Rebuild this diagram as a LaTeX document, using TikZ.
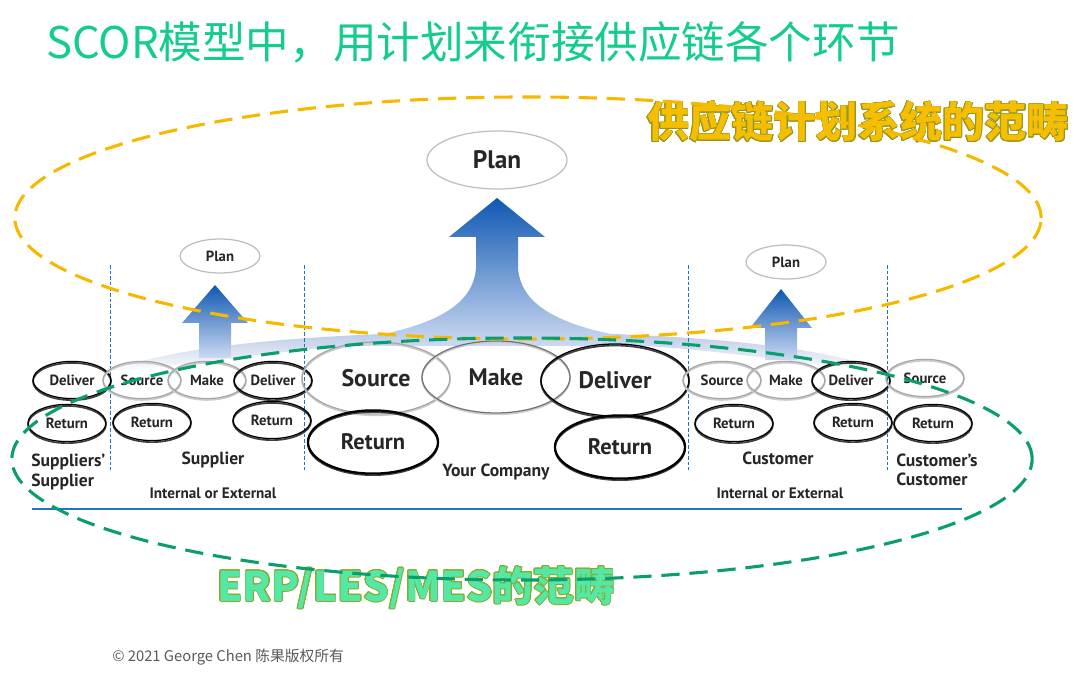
\documentclass[tikz,border=0pt]{standalone}
\usepackage{fontspec}
\usepackage{contour}
\usetikzlibrary{shapes.geometric}

\newfontfamily\cjk{Noto Sans CJK SC}
\newfontfamily\scorfont{PT Sans}

\definecolor{titlegreen}{RGB}{20,205,140}
\definecolor{planorange}{RGB}{245,190,0}
\definecolor{planoutline}{RGB}{150,150,30}
\definecolor{erpgreen}{RGB}{85,232,165}
\definecolor{erpoutline}{RGB}{135,170,40}
\definecolor{dashorange}{RGB}{247,185,0}
\definecolor{dashgreen}{RGB}{10,158,108}
\definecolor{linkblue}{RGB}{35,115,195}
\definecolor{arrowtop}{RGB}{15,88,178}
\definecolor{arrowbottom}{RGB}{205,218,242}
\definecolor{bandtop}{RGB}{185,200,230}

\contourlength{0.45pt}

\tikzstyle{oval}=[ellipse, inner sep=0pt, text=black!85,
                  font=\scorfont\bfseries\fontsize{10.5}{12}\selectfont,
                  minimum width=1.95cm, minimum height=0.93cm]
\tikzstyle{darkoval}=[draw=black, line width=0.9pt,
                      preaction={draw=black!75, line width=1.2pt, transform canvas={yshift=-1.1pt}}]
\tikzstyle{lightoval}=[draw=black!35, line width=0.9pt,
                       preaction={draw=black!20, line width=1.1pt, transform canvas={yshift=-1pt}}]
\tikzstyle{bigoval}=[oval, font=\scorfont\bfseries\fontsize{17}{20}\selectfont,
                     minimum width=3.7cm, minimum height=1.8cm]
\tikzstyle{bigreturn}=[oval, font=\scorfont\bfseries\fontsize{16}{19}\selectfont,
                       minimum width=3.25cm, minimum height=1.58cm, line width=1.6pt]
\tikzstyle{planoval}=[oval, draw=black!25, fill=white, line width=0.9pt,
                      minimum width=2cm, minimum height=0.85cm]
\tikzstyle{label}=[text=black!85, inner sep=0pt,
                   font=\scorfont\bfseries\fontsize{12.5}{14}\selectfont]
\tikzstyle{note}=[text=black!85, inner sep=0pt,
                  font=\scorfont\bfseries\fontsize{10.8}{12}\selectfont]
\tikzstyle{divider}=[linkblue, line width=0.7pt, dash pattern=on 2.5pt off 1.5pt]
\tikzstyle{scope}=[line width=2.2pt, dash pattern=on 13pt off 7pt]
\tikzstyle{uparrow}=[top color=arrowtop, bottom color=arrowbottom, draw=none]

\begin{document}
\begin{tikzpicture}[x=0.025cm, y=-0.025cm]
\useasboundingbox[fill=white] (0,0) rectangle (1080,675);

%%%%%%%%%%%%%%%%%%%%%%%%%%%%%%
% titles

\node (title) at (46, 42) [anchor=west, inner sep=0pt, text=titlegreen]
  {\cjk\fontsize{31}{36}\selectfont SCOR模型中，用计划来衔接供应链各个环节};

\node (plan_scope) at (858, 122) [inner sep=0pt]
  {\cjk\bfseries\fontsize{30}{34}\selectfont\color{planoutline}\contour{planoutline}{\color{planorange}供应链计划系统的范畴}};

\node (erp_scope) at (416, 588) [inner sep=0pt]
  {\cjk\bfseries\fontsize{29}{33}\selectfont\color{erpoutline}\contour{erpoutline}{\color{erpgreen}ERP/LES/MES的范畴}};

\node (copyright) at (112, 657) [anchor=west, inner sep=0pt, text=black!65]
  {\cjk\fontsize{10.5}{12}\selectfont © 2021 George Chen 陈果版权所有};

%%%%%%%%%%%%%%%%%%%%%%%%%%%%%%
% arrows

% band behind the ovals
\shade[top color=bandtop, bottom color=white]
  (105,372) .. controls (180,345) and (300,334) .. (497,331)
  .. controls (700,334) and (815,345) .. (892,372)
  .. controls (780,362) and (700,346) .. (600,344) -- (400,344)
  .. controls (300,346) and (220,362) .. (105,372) -- cycle;

% your company
\shade[uparrow] (497,198) -- (545,237) -- (518,237) -- (518,268)
  .. controls (521,312) and (575,336) .. (700,346) -- (294,346)
  .. controls (419,336) and (473,312) .. (476,268) -- (476,237) -- (449,237) -- cycle;

% supplier
\shade[uparrow] (215,285) -- (248,323) -- (231,323) -- (231,358)
  -- (199,358) -- (199,323) -- (182,323) -- cycle;

% customer
\shade[uparrow] (781,289) -- (812,328) -- (797,328) -- (797,360)
  -- (765,360) -- (765,328) -- (750,328) -- cycle;

%%%%%%%%%%%%%%%%%%%%%%%%%%%%%%
% dividers

\coordinate (div_a_top) at (110, 265);
\coordinate (div_a_bot) at (110, 470);
\coordinate (div_b_top) at (304, 265);
\coordinate (div_b_bot) at (304, 470);
\coordinate (div_c_top) at (688, 265);
\coordinate (div_c_bot) at (688, 470);
\coordinate (div_d_top) at (887, 265);
\coordinate (div_d_bot) at (887, 470);
\coordinate (base_l) at (32, 509);
\coordinate (base_r) at (962, 509);

\draw [divider] (div_a_top) -- (div_a_bot);
\draw [divider] (div_b_top) -- (div_b_bot);
\draw [divider] (div_c_top) -- (div_c_bot);
\draw [divider] (div_d_top) -- (div_d_bot);
\draw [linkblue, line width=1pt] (base_l) -- (base_r);

%%%%%%%%%%%%%%%%%%%%%%%%%%%%%%
% nodes

% suppliers' supplier
\node (ss_deliver) at (72, 380) [oval, darkoval] {Deliver};
\node (ss_return) at (67, 423) [oval, darkoval] {Return};
\node (ss_label) at (31, 472) [label, anchor=west, align=left] {Suppliers’\\Supplier};

% supplier
\node (sup_plan) at (220, 256) [planoval] {Plan};
\node (sup_source) at (142, 380) [oval, lightoval] {Source};
\node (sup_make) at (207, 380) [oval, lightoval] {Make};
\node (sup_deliver) at (273, 380) [oval, darkoval] {Deliver};
\node (sup_return_a) at (152, 422) [oval, darkoval] {Return};
\node (sup_return_b) at (272, 420) [oval, darkoval] {Return};
\node (sup_label) at (213, 460) [label] {Supplier};
\node (sup_note) at (213, 493) [note] {Internal or External};

% your company
\node (yc_plan) at (497, 160) [planoval, font=\scorfont\bfseries\fontsize{18}{21}\selectfont,
                               minimum width=3.5cm, minimum height=1.45cm] {Plan};
\node (yc_source) at (376, 378) [bigoval, lightoval] {Source};
\node (yc_make) at (496, 377) [bigoval, lightoval, draw=black!55] {Make};
\node (yc_deliver) at (615, 380) [bigoval, darkoval] {Deliver};
\node (yc_return_a) at (373, 442) [bigreturn, darkoval, line width=1.6pt] {Return};
\node (yc_return_b) at (620, 447) [bigreturn, darkoval, line width=1.6pt] {Return};
\node (yc_label) at (496, 472) [label] {Your Company};

% customer
\node (cu_plan) at (786, 262) [planoval] {Plan};
\node (cu_source) at (722, 380) [oval, lightoval] {Source};
\node (cu_make) at (786, 380) [oval, lightoval] {Make};
\node (cu_deliver) at (851, 380) [oval, darkoval] {Deliver};
\node (cu_return_a) at (734, 423) [oval, darkoval] {Return};
\node (cu_return_b) at (853, 422) [oval, darkoval] {Return};
\node (cu_label) at (778, 458) [label] {Customer};
\node (cu_note) at (780, 493) [note] {Internal or External};

% customer's customer
\node (cc_source) at (925, 378) [oval, lightoval] {Source};
\node (cc_return) at (933, 423) [oval, darkoval] {Return};
\node (cc_label) at (896, 470) [label, anchor=west, align=left] {Customer’s\\Customer};

%%%%%%%%%%%%%%%%%%%%%%%%%%%%%%
% scopes

\draw [scope, dashorange] (528, 218) ellipse [x radius=12.825cm, y radius=3.025cm];
\draw [scope, dashgreen] (522, 459) ellipse [x radius=12.75cm, y radius=3.025cm];

\end{tikzpicture}
\end{document}
